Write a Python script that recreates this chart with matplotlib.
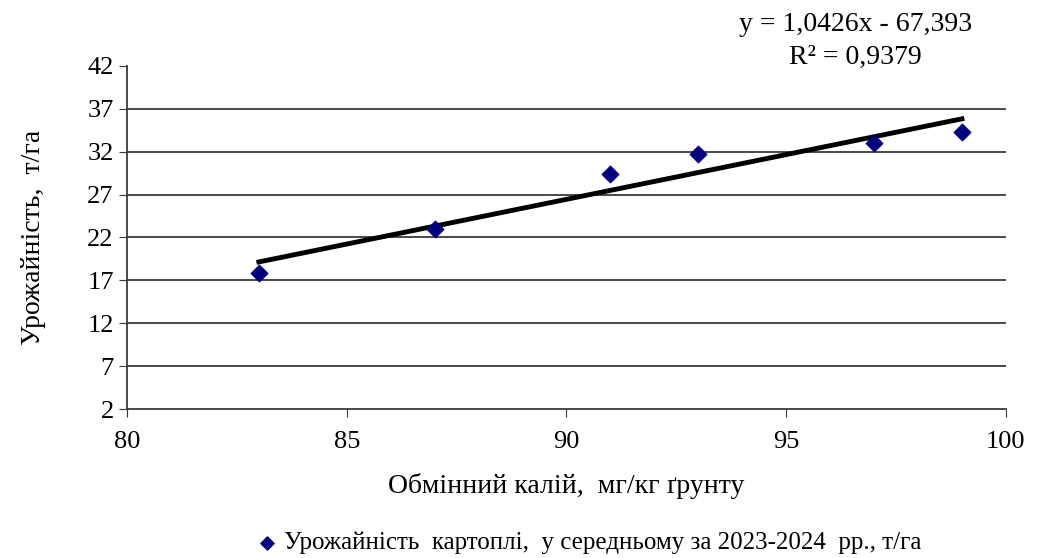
import numpy as np
import matplotlib.pyplot as plt

plt.rcParams['font.family'] = ['Liberation Serif', 'DejaVu Serif']

potassium = [83, 87, 91, 93, 97, 99]
yield_t = [17.9, 23.0, 29.4, 31.7, 33.0, 34.3]
slope, intercept = 1.0426, -67.393
eq_text = "y = 1,0426x - 67,393\nR² = 0,9379"
series_label = "Урожайність  картоплі,  у середньому за 2023-2024  рр., т/га"

fig = plt.figure(figsize=(10.37, 5.58), dpi=100)
ax = fig.add_axes([0.1225, 0.267, 0.8475, 0.615])

for yv in range(7, 42, 5):
    ax.axhline(yv, color='#3a3a3a', lw=1.3, zorder=1)

ax.scatter(potassium, yield_t, marker='D', s=70, color='#000080', zorder=3,
           label=series_label)
xt = np.array([potassium[0], potassium[-1]])
ax.plot(xt, slope * xt + intercept, color='black', lw=3.5, zorder=2)

ax.set_xlim(80, 100)
ax.set_ylim(2, 42)
ax.set_xticks(range(80, 101, 5))
ax.set_yticks(range(2, 43, 5))
ax.tick_params(labelsize=19, direction='out', length=6, color='#3a3a3a')
ax.tick_params(axis='x', pad=10)
for s in ['top', 'right']:
    ax.spines[s].set_visible(False)
for s in ['left', 'bottom']:
    ax.spines[s].set_color('#3a3a3a')
    ax.spines[s].set_linewidth(1.3)

ax.set_xlabel("Обмінний калій,  мг/кг ґрунту", fontsize=20, labelpad=14)
ax.set_ylabel("Урожайність,  т/га", fontsize=20, labelpad=30)

fig.text(0.825, 0.927, eq_text, ha='center', va='center', fontsize=20,
         linespacing=1.4)

fig.legend(loc='center', bbox_to_anchor=(0.568, 0.027), frameon=False,
           fontsize=18, handlelength=0.8, handletextpad=0.3, markerscale=0.8)

fig.savefig("out.png", dpi=100)
